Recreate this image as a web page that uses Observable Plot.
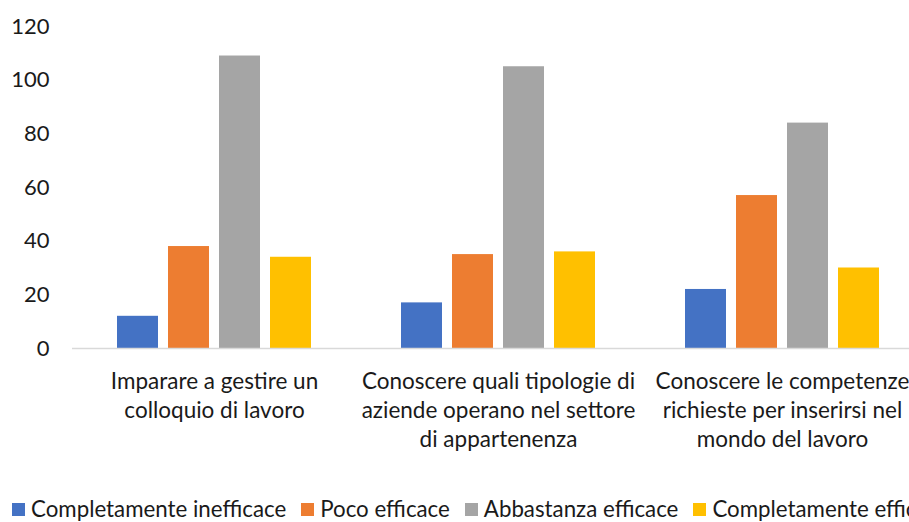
<!DOCTYPE html>
<html>
<head>
<meta charset="utf-8">
<script src="https://cdn.jsdelivr.net/npm/d3@7"></script>
<script src="https://cdn.jsdelivr.net/npm/@observablehq/plot@0.6"></script>
<style>
  html, body { margin: 0; padding: 0; background: #fff; overflow: hidden; width: 909px; height: 522px; position: relative; }
  #chart { width: 909px; height: 498px; overflow: hidden; }
  #chart svg { display: block; max-width: none !important; width: 960px !important; height: 498px !important; }
  .legend { position: absolute; left: 0; top: 496px; width: 909px; height: 26px; line-height: 26px; overflow: hidden; white-space: nowrap; font-family: Lato, "Open Sans", sans-serif; font-size: 22.3px; color: #1a1a1a; display: flex; align-items: center; padding-left: 12px; box-sizing: border-box; }
  .legend .item { display: inline-flex; align-items: center; margin-right: 15px; flex: none; }
  .legend .sw { width: 13px; height: 13px; margin-right: 6px; flex: none; }
</style>
</head>
<body>
<div id="chart"></div>
<script>
const categories = [
  "Imparare a gestire un colloquio di lavoro",
  "Conoscere quali tipologie di aziende operano nel settore di appartenenza",
  "Conoscere le competenze richieste per inserirsi nel mondo del lavoro"
];
const categoryLabels = [
  "Imparare a gestire un\ncolloquio di lavoro",
  "Conoscere quali tipologie di\naziende operano nel settore\ndi appartenenza",
  "Conoscere le competenze\nrichieste per inserirsi nel\nmondo del lavoro"
];
const series = ["Completamente inefficace", "Poco efficace", "Abbastanza efficace", "Completamente efficace"];
const colors = ["#4472C4", "#ED7D31", "#A5A5A5", "#FFC000"];
const completamenteInefficace = [12, 17, 22];
const pocoEfficace = [38, 35, 57];
const abbastanzaEfficace = [109, 105, 84];
const completamenteEfficace = [34, 36, 30];
const yTicks = [0, 20, 40, 60, 80, 100, 120];

const valuesBySeries = [completamenteInefficace, pocoEfficace, abbastanzaEfficace, completamenteEfficace];
const data = [];
categories.forEach((c, i) => {
  series.forEach((s, j) => data.push({category: c, series: s, value: valuesBySeries[j][i]}));
});
const labelData = categories.map((c, i) => ({category: c, label: categoryLabels[i]}));

const FONT = "Lato, 'Open Sans', sans-serif";

const chart = Plot.plot({
  width: 960,
  height: 498,
  marginLeft: 71,
  marginRight: 36,
  marginTop: 26,
  marginBottom: 150,
  style: {fontFamily: FONT, fontSize: "22px", color: "#1a1a1a", background: "#fff", maxWidth: "none"},
  fx: {domain: categories, padding: 0, axis: null},
  x: {domain: series, paddingInner: 0.204, paddingOuter: 0.864, axis: null},
  y: {domain: [0, 120], axis: null},
  color: {domain: series, range: colors},
  marks: [
    Plot.barY(data, {fx: "category", x: "series", y: "value", fill: "series"}),
    Plot.ruleY([0], {stroke: "#d9d9d9", strokeWidth: 1.5}),
    Plot.axisY({ticks: yTicks, label: null, tickSize: 0, tickPadding: 23, fontSize: 22, fill: "#1a1a1a"}),
    Plot.text(labelData, {fx: "category", text: "label", frameAnchor: "bottom", lineAnchor: "top", dy: 20, lineHeight: 1.29, fontSize: 22.5, fill: "#1a1a1a"})
  ]
});
document.getElementById("chart").appendChild(chart);

const legend = document.createElement("div");
legend.className = "legend";
series.forEach((s, j) => {
  const item = document.createElement("span");
  item.className = "item";
  const sw = document.createElement("span");
  sw.className = "sw";
  sw.style.background = colors[j];
  const t = document.createElement("span");
  t.textContent = s;
  item.appendChild(sw);
  item.appendChild(t);
  legend.appendChild(item);
});
document.body.appendChild(legend);
</script>
</body>
</html>
